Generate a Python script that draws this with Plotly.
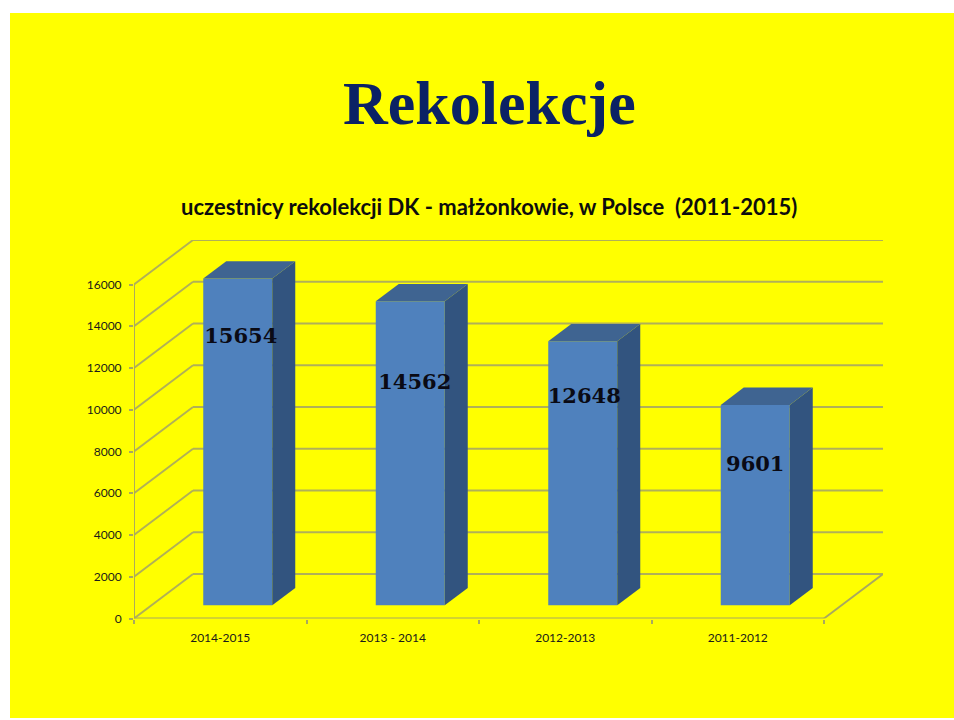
import plotly.graph_objects as go

W, H = 954, 720

# data
categories = ["2014-2015", "2013 - 2014", "2012-2013", "2011-2012"]
participants = [15654, 14562, 12648, 9601]
label_heights = [13434, 11234, 10564, 7304]
label_nudge_px = [3, 4.5, 1.5, 0]
y_ticks = [0, 2000, 4000, 6000, 8000, 10000, 12000, 14000, 16000]

# geometry of the fake 3D frame, in axis units
PX_X = 172.5          # px per category
PX_Y = 334 / 16000    # px per value unit
wall_dx, wall_dy = 59 / PX_X, 44.5 / PX_Y
bar_dx, bar_dy = 23 / PX_X, 17.3 / PX_Y
bar_w = 69 / PX_X
bar_shift = 17.5 / PX_X
bar_base = 13.2 / PX_Y
x_left, x_right = -0.5, 3.5
x_max = x_right + wall_dx
y_max = 16000 + wall_dy
L, R, T, B = 134, 134 + 4 * PX_X + 59, 618.5 - y_max * PX_Y, 618.5

GRID = "#B0B058"
AXIS = "#A8A860"
FRONT = "#4F81BD"
TOP = "#3F6491"
SIDE = "#32547F"

fig = go.Figure()

shapes = [dict(type="rect", xref="paper", yref="paper", x0=10 / W, x1=1,
               y0=1 - 718 / H, y1=1 - 13 / H, fillcolor="#FFFF00", line=dict(width=0), layer="below")]

def seg(x0, y0, x1, y1, color=GRID, width=1.9):
    shapes.append(dict(type="line", xref="x", yref="y", x0=x0, y0=y0, x1=x1, y1=y1,
                       line=dict(color=color, width=width), layer="below"))

for t in y_ticks:
    seg(x_left, t, x_left + wall_dx, t + wall_dy)
    seg(x_left + wall_dx, t + wall_dy, x_max, t + wall_dy)
seg(x_left, 0, x_left, 16000, AXIS)
seg(x_left, 0, x_right, 0, AXIS, 2)
seg(x_right, 0, x_max, wall_dy, AXIS)

fig.add_trace(go.Bar(x=[i + bar_shift for i in range(4)], y=participants, base=bar_base,
                     width=bar_w, marker=dict(color=FRONT, line=dict(width=0)),
                     hoverinfo="skip", showlegend=False))

for i, v in enumerate(participants):
    x0 = i + bar_shift - bar_w / 2
    x1 = x0 + bar_w
    y0 = bar_base
    y1 = bar_base + v
    fig.add_trace(go.Scatter(x=[x1, x1 + bar_dx, x1 + bar_dx, x1, x1],
                             y=[y0, y0 + bar_dy, y1 + bar_dy, y1, y0],
                             mode="lines", fill="toself", fillcolor=SIDE, line=dict(width=0),
                             hoverinfo="skip", showlegend=False, cliponaxis=False))
    fig.add_trace(go.Scatter(x=[x0, x1, x1 + bar_dx, x0 + bar_dx, x0],
                             y=[y1, y1, y1 + bar_dy, y1 + bar_dy, y1],
                             mode="lines", fill="toself", fillcolor=TOP, line=dict(width=0),
                             hoverinfo="skip", showlegend=False, cliponaxis=False))

fig.add_trace(go.Scatter(x=[i + bar_shift + label_nudge_px[i] / PX_X for i in range(4)], y=label_heights,
                         mode="text", text=[str(v) for v in participants],
                         textposition="middle center", cliponaxis=False, hoverinfo="skip",
                         showlegend=False,
                         textfont=dict(family="DejaVu Serif", size=21, color="#0A0A14", weight="bold")))

fig.update_layout(
    width=W, height=H, margin=dict(l=0, r=0, t=0, b=0, autoexpand=False),
    paper_bgcolor="white", plot_bgcolor="rgba(0,0,0,0)", showlegend=False,
    xaxis=dict(domain=[L / W, R / W], range=[x_left, x_max], showgrid=False, zeroline=False,
               showline=False, tickmode="array", tickvals=list(range(4)), ticktext=categories,
               ticks="", tickfont=dict(family="Lato", size=12, color="#1a1a1a"),
               ticklabelstandoff=10, automargin=False,
               minor=dict(ticks="outside", ticklen=4, tickwidth=1.5, tickcolor=AXIS,
                          tickmode="array", tickvals=[-0.5, 0.5, 1.5, 2.5, 3.5], showgrid=False)),
    yaxis=dict(domain=[1 - B / H, 1 - T / H], range=[0, y_max], showgrid=False, zeroline=False,
               showline=False, tickmode="array", tickvals=y_ticks, tickformat="d",
               ticks="outside", ticklen=4, tickwidth=1.5, tickcolor=AXIS, automargin=False,
               ticklabelstandoff=5,
               tickfont=dict(family="Lato", size=12, color="#1a1a1a")),
    shapes=shapes,
    annotations=[
        dict(text="<b>Rekolekcje</b>", xref="paper", yref="paper", x=489 / W, y=1 - 103 / H,
             xanchor="center", yanchor="middle", showarrow=False,
             font=dict(family="Liberation Serif", size=62, color="#0B2265")),
        dict(text="<b>uczestnicy rekolekcji DK - małżonkowie, w Polsce  (2011-2015)</b>", xref="paper",
             yref="paper", x=489 / W, y=1 - 207 / H, xanchor="center", yanchor="middle", showarrow=False,
             font=dict(family="Lato", size=22, color="#0d0d0d")),
    ],
)

fig.write_html("out.html", config={"displayModeBar": False},
               post_script="document.body.style.margin='0';document.body.style.overflow='hidden';")
